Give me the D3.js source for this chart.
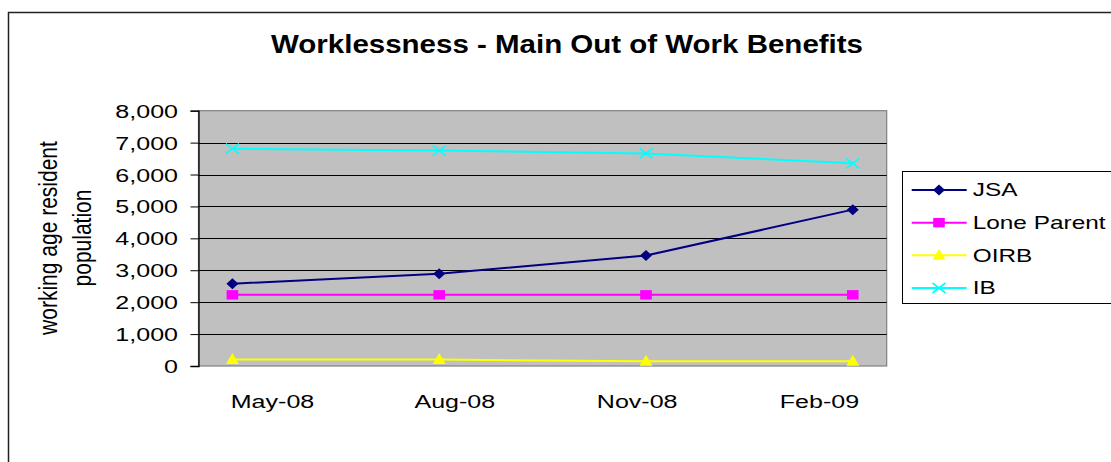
<!DOCTYPE html>
<html><head><meta charset="utf-8">
<script src="https://cdn.jsdelivr.net/npm/d3@7"></script>
<style>
html,body{margin:0;padding:0;background:#fff;}
svg{display:block;font-family:"Liberation Sans",Arial,sans-serif;}
</style></head>
<body>
<svg id="chart" width="1111" height="462"></svg>
<script>
const categories = ["May-08", "Aug-08", "Nov-08", "Feb-09"];
const jsa = [2580, 2890, 3460, 4900];
const loneParent = [2230, 2230, 2230, 2230];
const oirb = [200, 200, 150, 150];
const ib = [6810, 6750, 6660, 6350];
const yTicks = [0, 1000, 2000, 3000, 4000, 5000, 6000, 7000, 8000];
const seriesNames = ["JSA", "Lone Parent", "OIRB", "IB"];

const series = [
  {name: seriesNames[0], values: jsa, color: "#000080", marker: "diamond"},
  {name: seriesNames[1], values: loneParent, color: "#FF00FF", marker: "square"},
  {name: seriesNames[2], values: oirb, color: "#FFFF00", marker: "triangle"},
  {name: seriesNames[3], values: ib, color: "#00FFFF", marker: "x"}
];

const SX = 1.355; // horizontal text stretch
const svg = d3.select("#chart");
const L = 198.5, T = 110.7, R = 886.7, B = 366;

// outer border
svg.append("rect").attr("x", 8.5).attr("y", 12.5).attr("width", 1200).attr("height", 600)
  .attr("fill", "none").attr("stroke", "#222").attr("stroke-width", 1.5);

// title
svg.append("g").attr("transform", `translate(567,53) scale(1.18,1)`)
  .append("text").attr("text-anchor", "middle").attr("font-size", 25).attr("font-weight", "bold")
  .attr("fill", "#000").text("Worklessness - Main Out of Work Benefits");

const x = d3.scalePoint().domain(categories).range([L, R]).padding(0.164);
const xl = d3.scalePoint().domain(categories).range([272, 819]);
const y = d3.scaleLinear().domain([0, 8000]).range([B, T]);

// plot area
svg.append("rect").attr("x", L).attr("y", T).attr("width", R - L).attr("height", B - T)
  .attr("fill", "#C0C0C0").attr("stroke", "#808080").attr("stroke-width", 1.2);

// gridlines
svg.append("g").selectAll("line").data(yTicks.filter(v => v > 0 && v < 8000)).join("line")
  .attr("x1", L).attr("x2", R).attr("y1", d => Math.round(y(d)) + 0.5).attr("y2", d => Math.round(y(d)) + 0.5)
  .attr("stroke", "#000").attr("stroke-width", 1);

// y axis
const yAxis = svg.append("g").attr("transform", `translate(${L},0)`)
  .call(d3.axisLeft(y).tickValues(yTicks).tickSize(8).tickFormat(d3.format(",")));
yAxis.select(".domain").attr("stroke", "#000").attr("stroke-width", 1.3);
yAxis.selectAll(".tick line").attr("stroke", "#000");
yAxis.selectAll(".tick text").attr("font-size", 18.5).attr("fill", "#000")
  .attr("font-family", "Liberation Sans, Arial, sans-serif")
  .attr("transform", `scale(${SX},1)`).attr("x", -20.5 / SX).attr("dy", "0.35em");

// x axis labels
const xAxis = svg.append("g").attr("transform", `translate(0,${B})`)
  .call(d3.axisBottom(xl).tickSize(0));
xAxis.select(".domain").remove();
xAxis.selectAll(".tick text").attr("font-size", 18.5).attr("fill", "#000")
  .attr("font-family", "Liberation Sans, Arial, sans-serif")
  .attr("y", 29).attr("dy", "0.71em").attr("transform", `scale(${SX},1)`);
xAxis.selectAll(".tick").each(function() {
  const t = d3.select(this).attr("transform");
  const m = /translate\(([-\d.]+)/.exec(t);
  const cx = +m[1];
  d3.select(this).attr("transform", `translate(${cx},0)`);
  d3.select(this).select("text").attr("x", 0);
});

// y title
const yt = svg.append("g").attr("transform", `translate(0,238)`);
[["working age resident", 48], ["population", 81.7]].forEach(([s, cx]) => {
  yt.append("g").attr("transform", `translate(${cx},0) scale(1.25,1) rotate(-90)`)
    .append("text").attr("text-anchor", "middle").attr("dy", "0.35em").attr("font-size", 21)
    .attr("fill", "#000").text(s);
});

function markerPath(type) {
  switch (type) {
    case "diamond": return "M0,-5.5L6,0L0,5.5L-6,0Z";
    case "square": return "M-5.8,-4.7H5.8V4.7H-5.8Z";
    case "triangle": return "M0,-6.5L6.5,4.5H-6.5Z";
    case "x": return "M-6.5,-5L6.5,5M-6.5,5L6.5,-5";
  }
}
function drawMarker(g, type, color) {
  const p = g.append("path").attr("d", markerPath(type));
  if (type === "x") p.attr("fill", "none").attr("stroke", color).attr("stroke-width", 1.6);
  else p.attr("fill", color).attr("stroke", "none");
}

const line = d3.line().x((d, i) => x(categories[i])).y(d => y(d));
series.forEach(s => {
  svg.append("path").datum(s.values).attr("d", line).attr("fill", "none")
    .attr("stroke", s.color).attr("stroke-width", 2);
  s.values.forEach((v, i) => {
    const g = svg.append("g").attr("transform", `translate(${x(categories[i])},${y(v)})`);
    drawMarker(g, s.marker, s.color);
  });
});

// legend
const lg = svg.append("g");
lg.append("rect").attr("x", 902.5).attr("y", 171.5).attr("width", 300).attr("height", 132)
  .attr("fill", "#fff").attr("stroke", "#000").attr("stroke-width", 1);
const ly = d3.scalePoint().domain(seriesNames).range([190, 288]);
series.forEach(s => {
  const cy = ly(s.name);
  lg.append("line").attr("x1", 911.7).attr("x2", 966.7).attr("y1", cy).attr("y2", cy)
    .attr("stroke", s.color).attr("stroke-width", 2);
  const g = lg.append("g").attr("transform", `translate(939,${cy})`);
  drawMarker(g, s.marker, s.color);
  lg.append("g").attr("transform", `translate(972.7,${cy}) scale(${SX},1)`)
    .append("text").attr("dy", "0.36em").attr("font-size", 18).attr("fill", "#000").text(s.name);
});
</script>
</body></html>
